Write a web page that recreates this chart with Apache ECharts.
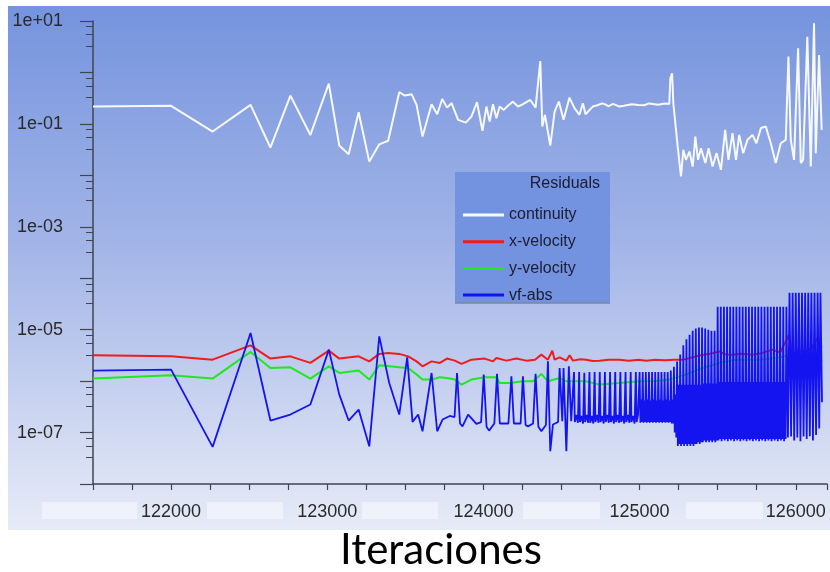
<!DOCTYPE html>
<html>
<head>
<meta charset="utf-8">
<script src="https://cdn.jsdelivr.net/npm/echarts@6.0.0/dist/echarts.min.js"></script>
<style>
html,body{margin:0;padding:0;background:#ffffff;}
#chart{width:830px;height:572px;}
</style>
</head>
<body>
<div id="chart"></div>
<script>
// ---------- data (iteration, residual) ----------
const seriesNames = ['continuity', 'x-velocity', 'y-velocity', 'vf-abs'];
const xTickLabels = [122000, 123000, 124000, 125000, 126000];
const yTickLabels = ['1e+01', '1e-01', '1e-03', '1e-05', '1e-07'];
const axisTitle = 'Iteraciones';
const legendTitle = 'Residuals';

const continuity = [
[121500,0.217],[122000,0.224],[122266,0.071],[122509,0.234],[122636,0.0347],[122764,0.355],[122892,0.061],[123010,0.607],
[123077,0.038],[123137,0.0258],[123201,0.169],[123269,0.0185],[123333,0.040],[123390,0.047],[123461,0.413],[123497,0.355],
[123540,0.378],[123572,0.234],[123610,0.0566],[123668,0.241],[123704,0.154],[123736,0.305],[123767,0.207],[123796,0.252],
[123838,0.120],[123887,0.106],[123923,0.139],[123959,0.264],[123994,0.073],[124019,0.217],[124040,0.111],[124061,0.241],
[124083,0.129],[124104,0.217],[124130,0.187],[124157,0.226],[124189,0.271],[124221,0.217],[124253,0.241],[124300,0.292],
[124334,0.207],[124364,1.67],[124377,0.0887],[124394,0.150],[124428,0.038],[124456,0.173],[124483,0.271],[124513,0.120],
[124551,0.324],[124583,0.202],[124615,0.150],[124637,0.252],[124654,0.154],[124700,0.217],[124730,0.230],[124760,0.250],
[124786,0.235],[124800,0.220],[124830,0.245],[124871,0.217],[124900,0.225],[124950,0.240],[124994,0.234],[125030,0.230],
[125060,0.250],[125084,0.244],[125120,0.235],[125160,0.250],[125190,0.244],[125197,0.771],[125208,0.964],[125216,0.252],
[125244,0.0362],[125265,0.0095],[125280,0.0313],[125297,0.0200],[125319,0.029],[125340,0.0148],[125357,0.0566],[125374,0.0200],
[125393,0.0337],[125421,0.0173],[125442,0.0337],[125467,0.0148],[125493,0.027],[125521,0.0128],[125548,0.0764],[125569,0.0200],
[125595,0.066],[125617,0.0200],[125638,0.061],[125663,0.027],[125691,0.049],[125723,0.061],[125748,0.042],[125777,0.083],
[125808,0.0887],[125840,0.042],[125872,0.0173],[125904,0.042],[125936,0.049],[125953,2.03],[125968,0.049],[125989,0.020],
[126015,2.95],[126032,0.0173],[126047,0.020],[126074,4.95],[126096,0.0148],[126117,9.0],[126128,0.027],[126149,2.19],[126166,0.0764]
];

const xVelocity = [
[121500,3.17e-6],[122000,3.03e-6],[122266,2.61e-6],[122509,4.95e-6],[122636,2.74e-6],[122764,3.03e-6],[122892,2.26e-6],
[123010,3.91e-6],[123077,2.74e-6],[123201,3.03e-6],[123269,2.42e-6],[123333,3.38e-6],[123390,3.53e-6],[123461,3.38e-6],
[123518,3.03e-6],[123572,2.42e-6],[123610,1.94e-6],[123668,2.42e-6],[123721,2.26e-6],[123767,2.74e-6],[123817,2.50e-6],
[123860,2.16e-6],[123923,2.61e-6],[124008,2.74e-6],[124061,2.42e-6],[124083,2.82e-6],[124147,2.50e-6],[124211,2.74e-6],
[124275,2.50e-6],[124330,2.60e-6],[124371,3.27e-6],[124413,2.61e-6],[124441,3.91e-6],[124456,2.61e-6],[124488,2.90e-6],
[124531,2.50e-6],[124552,3.17e-6],[124573,2.50e-6],[124620,2.65e-6],[124658,2.61e-6],[124700,2.45e-6],[124743,2.50e-6],
[124800,2.60e-6],[124871,2.61e-6],[124930,2.50e-6],[124994,2.61e-6],[125042,2.50e-6],[125100,2.60e-6],[125160,2.55e-6],
[125223,2.61e-6],[125276,2.60e-6],[125320,2.80e-6],[125361,3.03e-6],[125420,3.30e-6],[125470,3.50e-6],[125510,3.80e-6],
[125550,3.30e-6],[125595,3.27e-6],[125650,3.40e-6],[125723,3.27e-6],[125780,3.50e-6],[125851,4.09e-6],[125900,3.60e-6],
[125957,8.0e-6],[125978,3.27e-6],[126020,3.90e-6],[126064,3.80e-6],[126100,4.20e-6],[126138,6.9e-6],[126152,4.0e-6],[126166,4.74e-6]
];

const yVelocity = [
[121500,1.12e-6],[122000,1.30e-6],[122266,1.12e-6],[122509,3.69e-6],[122636,1.80e-6],[122764,1.85e-6],[122892,1.12e-6],
[123010,1.94e-6],[123077,1.44e-6],[123201,1.60e-6],[123269,1.07e-6],[123333,2.03e-6],[123401,1.94e-6],[123461,1.85e-6],
[123518,1.80e-6],[123572,1.34e-6],[123610,1.07e-6],[123668,1.07e-6],[123721,1.19e-6],[123767,1.15e-6],[123817,1.07e-6],
[123860,8.55e-7],[123923,1.07e-6],[124008,1.19e-6],[124083,1.19e-6],[124104,9.2e-7],[124168,9.2e-7],[124253,9.9e-7],
[124317,9.9e-7],[124371,1.38e-6],[124413,9.9e-7],[124488,1.15e-6],[124531,9.9e-7],[124658,9.9e-7],[124743,8.55e-7],
[124871,9.2e-7],[124999,9.9e-7],[125100,1.0e-6],[125191,1.07e-6],[125297,1.34e-6],[125404,1.80e-6],[125510,2.26e-6],
[125617,2.61e-6],[125766,2.61e-6],[125872,2.82e-6],[125978,3.27e-6],[126085,3.53e-6],[126149,3.80e-6],[126166,2.42e-6]
];

const vfAbs = [
[121500,1.60e-6],[122000,1.67e-6],[122266,5.27e-8],[122509,8.6e-6],[122636,1.71e-7],[122764,2.24e-7],[122892,3.5e-7],
[123010,4.09e-6],[123077,5.47e-7],[123137,1.71e-7],[123201,2.8e-7],[123269,5.4e-8],[123333,7.4e-6],[123397,9.2e-7],
[123461,2.24e-7],[123512,2.9e-6],[123546,1.61e-7],[123582,2.24e-7],[123610,1.06e-7],[123668,1.44e-6],[123704,1.06e-7],
[123738,1.79e-7],[123785,2.1e-7],[123815,2.0e-7],[123831,1.44e-6],[123850,1.5e-7],[123866,1.32e-7],[123902,2.24e-7],
[123955,1.47e-7],[123985,1.6e-7],[124002,1.34e-6],[124020,1.3e-7],[124036,1.09e-7],[124070,1.5e-7],[124087,1.38e-6],
[124105,1.5e-7],[124115,1.43e-7],[124160,1.5e-7],[124179,1.24e-6],[124195,1.5e-7],[124206,1.43e-7],[124238,1.5e-7],
[124253,1.24e-6],[124270,1.4e-7],[124285,1.32e-7],[124318,1.5e-7],[124334,1.38e-6],[124352,1.3e-7],[124371,1.06e-7],
[124400,1.4e-7],[124413,2.42e-6],[124428,4.33e-8],[124445,1.43e-7],[124478,1.6e-7],[124488,1.8e-6],[124505,1.66e-7],
[124513,1.8e-6],[124531,4.33e-8],[124547,1.94e-6],[124562,1.66e-7],
[124580,1.5e-6],[124585,1.6e-7],[124595,2.2e-7],[124605,1.55e-7],
[124613,1.5e-6],[124618,1.6e-7],[124628,2.1e-7],[124638,1.5e-7],
[124646,1.45e-6],[124651,1.6e-7],[124661,2.2e-7],[124671,1.55e-7],
[124679,1.5e-6],[124684,1.55e-7],[124694,2.1e-7],[124704,1.5e-7],
[124712,1.5e-6],[124717,1.6e-7],[124727,2.2e-7],[124737,1.55e-7],
[124745,1.5e-6],[124750,1.6e-7],[124760,2.1e-7],[124770,1.5e-7],
[124778,1.5e-6],[124783,1.6e-7],[124793,2.2e-7],[124803,1.55e-7],
[124811,1.5e-6],[124816,1.6e-7],[124826,2.1e-7],[124836,1.5e-7],
[124844,1.5e-6],[124849,1.6e-7],[124859,2.2e-7],[124869,1.55e-7],
[124877,1.5e-6],[124882,1.6e-7],[124892,2.1e-7],[124902,1.5e-7],
[124910,1.5e-6],[124915,1.6e-7],[124925,2.2e-7],[124935,1.55e-7],
[124943,1.5e-6],[124948,1.6e-7],[124958,2.1e-7],[124968,1.5e-7],
[124976,1.5e-6],[124981,1.6e-7],[124990,2.2e-7],
[125000,1.5e-6],[125005,1.55e-7],[125010,4.4e-7],[125015,1.6e-7],
[125020,1.5e-6],[125025,1.55e-7],[125030,4.2e-7],[125035,1.6e-7],
[125040,1.5e-6],[125045,1.55e-7],[125050,4.4e-7],[125055,1.6e-7],
[125060,1.5e-6],[125065,1.55e-7],[125070,4.2e-7],[125075,1.6e-7],
[125080,1.5e-6],[125085,1.55e-7],[125090,4.4e-7],[125095,1.6e-7],
[125100,1.5e-6],[125105,1.55e-7],[125110,4.2e-7],[125115,1.6e-7],
[125120,1.5e-6],[125125,1.55e-7],[125130,4.4e-7],[125135,1.6e-7],
[125140,1.5e-6],[125145,1.55e-7],[125150,4.2e-7],[125155,1.6e-7],
[125160,1.5e-6],[125165,1.55e-7],[125170,4.4e-7],[125175,1.6e-7],
[125180,1.5e-6],[125185,1.55e-7],[125190,4.2e-7],[125195,1.6e-7],
[125200,1.6e-6],[125205,1.5e-7],[125210,4.4e-7],[125215,1.5e-7],
[125220,1.9e-6],[125225,1.0e-7],[125230,5.5e-7],[125235,8e-8],
[125240,2.4e-6],[125245,5.5e-8],[125250,8.5e-7],[125255,6e-8],
[125260,3.3e-6],[125265,5.5e-8],[125270,8.5e-7],[125275,6e-8],
[125280,5.0e-6],[125285,5.5e-8],[125290,8.5e-7],[125295,6e-8],
[125300,6.5e-6],[125305,5.5e-8],[125310,8.5e-7],[125315,6e-8],
[125320,8.0e-6],[125325,5.5e-8],[125330,8.5e-7],[125335,6e-8],
[125340,9.5e-6],[125345,5.5e-8],[125350,8.5e-7],[125355,6e-8],
[125360,1.05e-5],[125365,6e-8],[125370,8.5e-7],[125375,6.5e-8],
[125380,1.1e-5],[125385,6e-8],[125390,8.5e-7],[125395,6.5e-8],
[125400,1.1e-5],[125405,6.5e-8],[125410,9e-7],[125415,7e-8],
[125420,1.05e-5],[125425,6.5e-8],[125430,9e-7],[125435,7e-8],
[125440,1.0e-5],[125445,6.5e-8],[125450,9e-7],[125455,7e-8],
[125460,9.5e-6],[125465,6.5e-8],[125470,9e-7],[125475,7e-8],
[125480,9.5e-6],[125485,6.5e-8],[125490,9e-7],[125495,7e-8],
[125500,2.8e-5],[125505,7e-8],[125510,9.6e-7],[125515,7.5e-8],
[125520,2.8e-5],[125525,6.8e-8],[125530,9.6e-7],[125535,7.5e-8],
[125540,2.8e-5],[125545,7e-8],[125550,9.6e-7],[125555,7.5e-8],
[125560,2.8e-5],[125565,6.8e-8],[125570,9.6e-7],[125575,7.5e-8],
[125580,2.8e-5],[125585,7e-8],[125590,9.6e-7],[125595,7.5e-8],
[125600,2.8e-5],[125605,6.8e-8],[125610,9.6e-7],[125615,7.5e-8],
[125620,2.8e-5],[125625,7e-8],[125630,9.6e-7],[125635,7.5e-8],
[125640,2.8e-5],[125645,6.8e-8],[125650,9.6e-7],[125655,7.5e-8],
[125660,2.8e-5],[125665,7e-8],[125670,9.6e-7],[125675,7.5e-8],
[125680,2.8e-5],[125685,6.8e-8],[125690,9.6e-7],[125695,7.5e-8],
[125700,2.8e-5],[125705,7e-8],[125710,9.6e-7],[125715,7.5e-8],
[125720,2.8e-5],[125725,6.8e-8],[125730,9.6e-7],[125735,7.5e-8],
[125740,2.8e-5],[125745,7e-8],[125750,9.6e-7],[125755,7.5e-8],
[125760,2.8e-5],[125765,6.8e-8],[125770,9.6e-7],[125775,7.5e-8],
[125780,2.8e-5],[125785,7e-8],[125790,9.6e-7],[125795,7.5e-8],
[125800,2.8e-5],[125805,6.8e-8],[125810,9.6e-7],[125815,7.5e-8],
[125820,2.8e-5],[125825,7e-8],[125830,9.6e-7],[125835,7.5e-8],
[125840,2.8e-5],[125845,6.8e-8],[125850,9.6e-7],[125855,7.5e-8],
[125860,2.8e-5],[125865,7e-8],[125870,9.6e-7],[125875,7.5e-8],
[125880,2.8e-5],[125885,6.8e-8],[125890,9.6e-7],[125895,7.5e-8],
[125900,2.8e-5],[125905,7e-8],[125910,9.6e-7],[125915,7.5e-8],
[125920,2.8e-5],[125925,6.8e-8],[125930,9.6e-7],[125935,7.5e-8],
[125940,2.8e-5],[125950,8e-8],
[125960,5.2e-5],[125970,8.4e-8],[125980,5.2e-5],[125990,7e-8],[126000,5.2e-5],[126010,8e-8],
[126020,5.2e-5],[126030,6.8e-8],[126040,5.2e-5],[126050,8.4e-8],[126060,5.2e-5],[126070,7.5e-8],
[126080,5.2e-5],[126090,8.5e-8],[126100,5.2e-5],[126110,7e-8],[126120,5.2e-5],[126130,9e-8],
[126140,5.2e-5],[126150,1.2e-7],[126158,5.2e-5],[126168,3.9e-7]
];

// ---------- chart ----------
const chart = echarts.init(document.getElementById('chart'), null, {renderer: 'canvas', width: 830, height: 572});

function expLabel(v) {
  const e = Math.round(Math.log10(v));
  return '1e' + (e < 0 ? '-' : '+') + String(Math.abs(e)).padStart(2, '0');
}

const labelFont = 'Liberation Sans, Arial, sans-serif';
const axisColor = '#41454f';

const maskBoxes = [[42, 95], [207, 76], [362, 76], [523, 77], [686, 77]];

const graphics = [
  {
    type: 'rect', z: -100, silent: true,
    shape: {x: 8, y: 6, width: 822, height: 524},
    style: {
      fill: new echarts.graphic.LinearGradient(0, 0, 0, 1, [
        {offset: 0, color: '#7594de'},
        {offset: 0.45, color: '#a2b4e7'},
        {offset: 0.85, color: '#d5ddf3'},
        {offset: 1, color: '#e7ebf8'}
      ])
    }
  },
  {
    type: 'rect', z: 1, silent: true,
    shape: {x: 455, y: 172, width: 155, height: 131},
    style: {fill: '#7392df'}
  },
  {
    type: 'line', z: 1, silent: true,
    shape: {x1: 455, y1: 303, x2: 610, y2: 303},
    style: {stroke: '#7a86a8', lineWidth: 1.5}
  },
  {
    type: 'text', z: 5, silent: true,
    style: {x: 600, y: 184, text: legendTitle, align: 'right', verticalAlign: 'middle',
            font: '16px Liberation Sans, Arial, sans-serif', fill: '#1b1d33'}
  },
  {
    type: 'text', z: 5, silent: true,
    style: {x: 441, y: 550, text: axisTitle, align: 'center', verticalAlign: 'middle',
            font: '42px Lato, Open Sans, sans-serif', fill: '#000000'}
  }
];
maskBoxes.forEach(function (b) {
  graphics.push({
    type: 'rect', z: 2, silent: true,
    shape: {x: b[0], y: 502, width: b[1], height: 17},
    style: {fill: 'rgba(255,255,255,0.45)'}
  });
});

const option = {
  animation: false,
  backgroundColor: '#ffffff',
  graphic: graphics,
  grid: {left: 93, top: 21, right: 2, bottom: 88, containLabel: false},
  legend: {
    orient: 'vertical', left: 458, top: 201, z: 10,
    icon: 'rect', itemWidth: 41, itemHeight: 3, itemGap: 8.7,
    data: seriesNames,
    textStyle: {fontSize: 16, lineHeight: 18, color: '#1b1d33', fontFamily: labelFont},
    selectedMode: false
  },
  xAxis: {
    type: 'value', min: 121500, max: 126200, interval: 250,
    axisLine: {show: true, lineStyle: {color: axisColor, width: 1.5}},
    axisTick: {show: true, length: 6, lineStyle: {color: axisColor, width: 1.2}},
    splitLine: {show: false},
    axisLabel: {
      margin: 19, fontSize: 18, color: '#2a2a2a', fontFamily: labelFont,
      showMinLabel: true, showMaxLabel: true,
      formatter: function (v) { return xTickLabels.indexOf(Math.round(v)) >= 0 ? String(Math.round(v)) : ''; }
    }
  },
  yAxis: {
    type: 'log', logBase: 10, min: 1e-8, max: 10, splitNumber: 9,
    axisLine: {show: true, lineStyle: {color: axisColor, width: 1.5}},
    axisTick: {show: true, length: 13, lineStyle: {color: axisColor, width: 1.2}},
    minorTick: {show: true, splitNumber: 4, length: 7, lineStyle: {color: axisColor, width: 1}},
    splitLine: {show: false},
    minorSplitLine: {show: false},
    axisLabel: {
      margin: 30, fontSize: 18, color: '#2a2a2a', fontFamily: labelFont,
      formatter: function (v) { const s = expLabel(v); return yTickLabels.indexOf(s) >= 0 ? s : ''; }
    }
  },
  series: [
    {name: seriesNames[0], type: 'line', data: continuity, showSymbol: false, z: 3,
     lineStyle: {color: '#f7f9ff', width: 2}, itemStyle: {color: '#f7f9ff'}},
    {name: seriesNames[1], type: 'line', data: xVelocity, showSymbol: false, z: 3,
     lineStyle: {color: '#f01c1c', width: 2}, itemStyle: {color: '#f01c1c'}},
    {name: seriesNames[2], type: 'line', data: yVelocity, showSymbol: false, z: 3,
     lineStyle: {color: '#1ee81e', width: 2}, itemStyle: {color: '#1ee81e'}},
    {name: seriesNames[3], type: 'line', data: vfAbs, showSymbol: false, z: 4,
     lineStyle: {color: '#1414f0', width: 1.8}, itemStyle: {color: '#1414f0'}}
  ]
};
chart.setOption(option);
</script>
</body>
</html>
